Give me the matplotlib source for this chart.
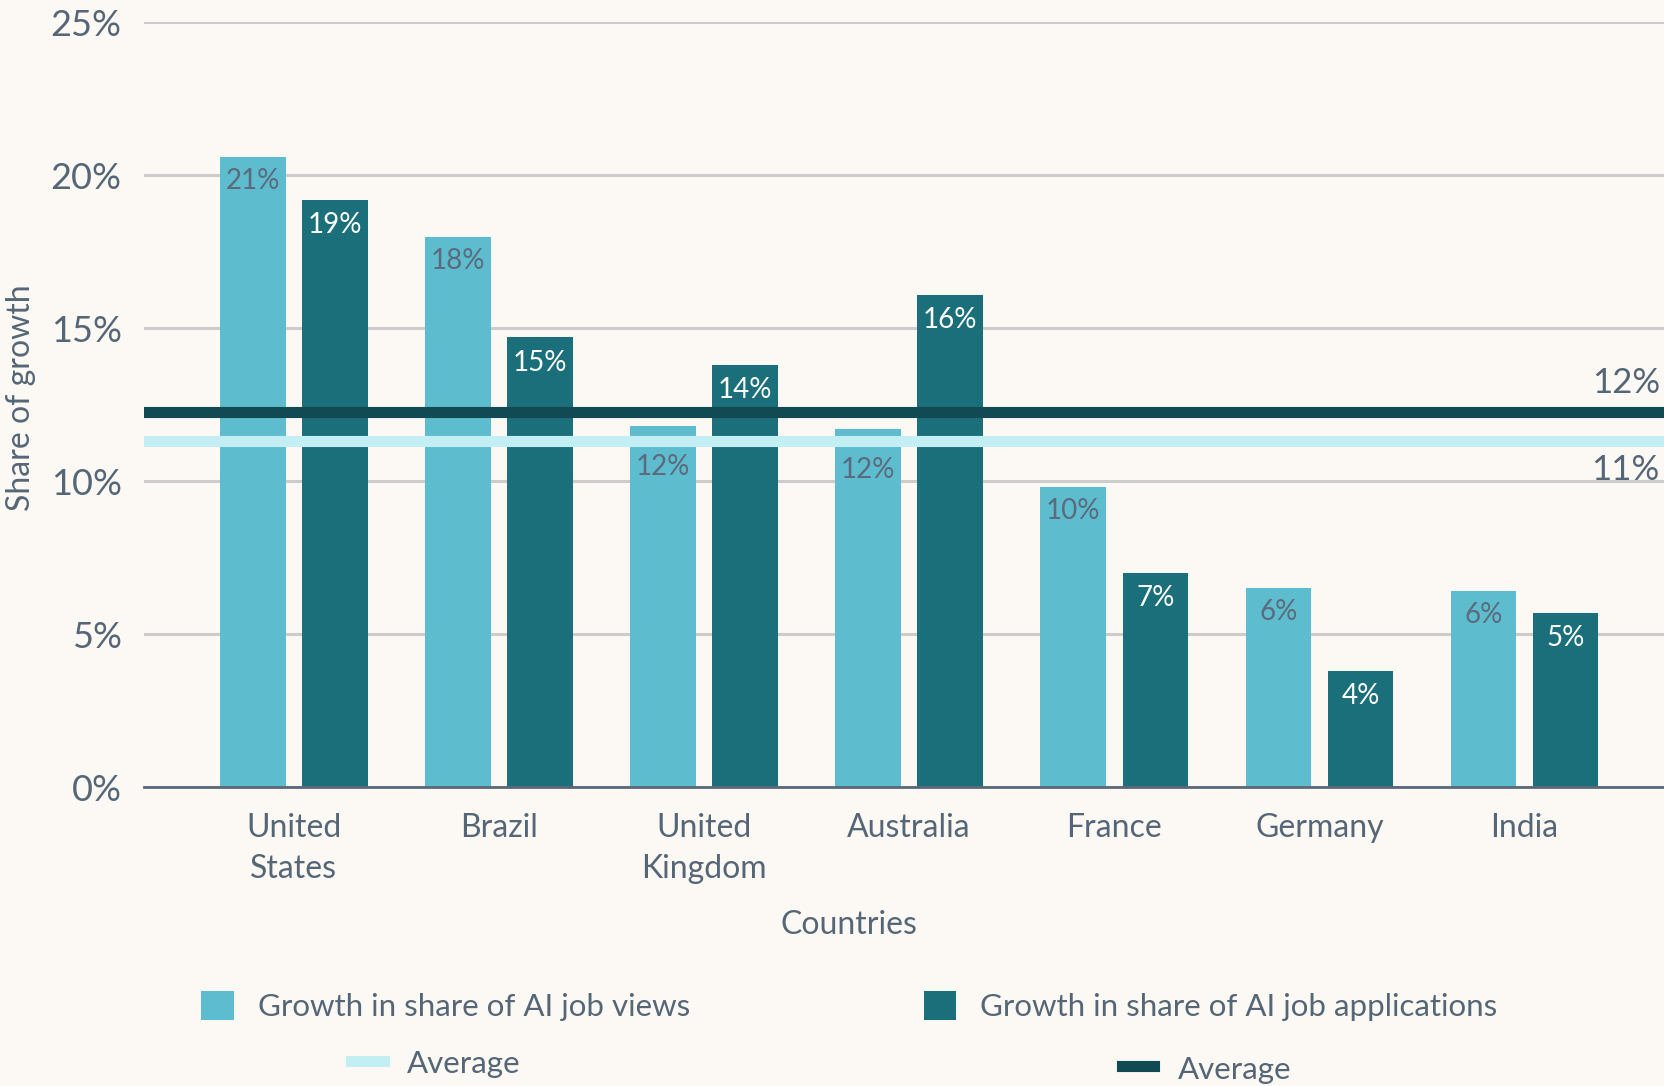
import numpy as np
import matplotlib.pyplot as plt
from matplotlib.lines import Line2D
from matplotlib.patches import Patch

plt.rcParams['font.family'] = ['Lato', 'DejaVu Sans']

countries = ['United\nStates', 'Brazil', 'United\nKingdom', 'Australia', 'France', 'Germany', 'India']
views = [20.6, 18.0, 11.8, 11.7, 9.8, 6.5, 6.4]
applications = [19.2, 14.7, 13.8, 16.1, 7.0, 3.8, 5.7]
views_labels = ['21%', '18%', '12%', '12%', '10%', '6%', '6%']
apps_labels = ['19%', '15%', '14%', '16%', '7%', '4%', '5%']
avg_views = 11.3
avg_apps = 12.25

bg = '#fcf9f4'
light = '#5dbdce'
dark = '#1a6f7b'
light_avg = '#c2eef4'
dark_avg = '#114a53'
text_col = '#556677'

fig = plt.figure(figsize=(16.64, 10.86), dpi=100, facecolor=bg)
ax = fig.add_axes([0.0865, 0.2753, 0.9135, 0.704])
ax.set_facecolor(bg)

x = np.arange(len(countries))
w = 0.32
off = 0.2
b1 = ax.bar(x - off, views, w, color=light, zorder=2)
b2 = ax.bar(x + off, applications, w, color=dark, zorder=2)

ax.axhline(avg_apps, color=dark_avg, lw=8, zorder=3)
ax.axhline(avg_views, color=light_avg, lw=8, zorder=3)

# labels inside bars, two of them pushed under the average line
view_off = [-8, -8, -20, -20, -8, -8, -8]
for i, (v, lab) in enumerate(zip(views, views_labels)):
    ax.annotate(lab, (x[i] - off, v), xytext=(0, view_off[i]), textcoords='offset points',
                ha='center', va='top', fontsize=20, color='#5b6b7d', zorder=4)
for i, (v, lab) in enumerate(zip(applications, apps_labels)):
    ax.annotate(lab, (x[i] + off, v), xytext=(0, -9), textcoords='offset points',
                ha='center', va='top', fontsize=20, color='white', zorder=4)

ax.annotate('12%', (1, avg_apps), xycoords=('axes fraction', 'data'), xytext=(-3, 10),
            textcoords='offset points', ha='right', va='bottom', fontsize=25, color=text_col)
ax.annotate('11%', (1, avg_views), xycoords=('axes fraction', 'data'), xytext=(-3, -9),
            textcoords='offset points', ha='right', va='top', fontsize=25, color=text_col)

ax.set_ylim(0, 25)
ax.set_xlim(-0.731, 6.68)
ax.set_yticks([0, 5, 10, 15, 20, 25])
ax.set_yticklabels(['0%', '5%', '10%', '15%', '20%', '25%'])
ax.yaxis.grid(True, color='#cccccc', lw=2.2, zorder=0)
ax.set_axisbelow(True)
ax.set_xticks(x)
ax.set_xticklabels(countries, linespacing=1.45)
ax.tick_params(axis='y', length=0, pad=16, labelsize=26, labelcolor=text_col)
ax.tick_params(axis='x', length=0, pad=19, labelsize=23, labelcolor=text_col)
for s in ['top', 'right', 'left']:
    ax.spines[s].set_visible(False)
ax.spines['bottom'].set_color('#5a6878')
ax.spines['bottom'].set_linewidth(2)
ax.spines['bottom'].set_zorder(5)

ax.set_xlabel('Countries', fontsize=23, color=text_col)
ax.xaxis.set_label_coords(0.464, -0.18)
ax.xaxis.label.set_va('center')
ax.set_ylabel('Share of growth', fontsize=23, color=text_col)
ax.yaxis.set_label_coords(-0.081, 0.509)
ax.yaxis.label.set_va('center')

legend_items = [
    (Patch(facecolor=light), 'Growth in share of AI job views', 0.121, 0.074),
    (Patch(facecolor=dark), 'Growth in share of AI job applications', 0.555, 0.074),
    (Line2D([], [], color=light_avg, lw=8), 'Average', 0.211, 0.021),
    (Line2D([], [], color=dark_avg, lw=8), 'Average', 0.674, 0.016),
]
for h, lab, lx, ly in legend_items:
    fig.legend(handles=[h], labels=[lab], loc='center left', bbox_to_anchor=(lx, ly),
               frameon=False, fontsize=22.5, labelcolor=text_col, handlelength=1.05,
               handleheight=1.05, handletextpad=0.75, borderpad=0, borderaxespad=0)

fig.savefig('out.png', dpi=100, facecolor=bg)
